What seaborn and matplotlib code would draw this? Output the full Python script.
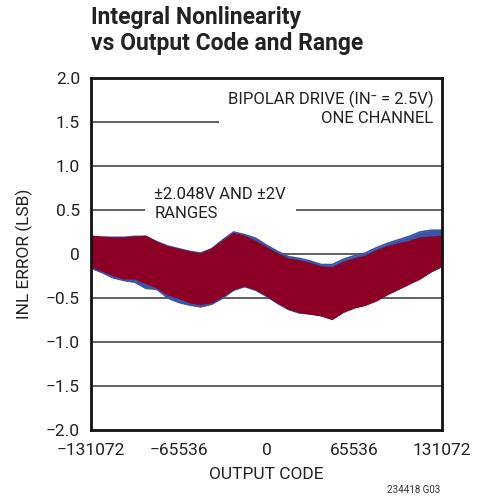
import numpy as np
import pandas as pd
import matplotlib
matplotlib.use("Agg")
import matplotlib.pyplot as plt
import seaborn as sns

# INL envelopes, every 8192 codes
codes = [-131072 + 8192 * k for k in range(33)]
red_top = [0.20, 0.19, 0.18, 0.18, 0.19, 0.20, 0.13, 0.08, 0.05, 0.02, 0.00,
           0.05, 0.14, 0.23, 0.20, 0.14, 0.07, 0.00, -0.06, -0.08, -0.11, -0.15,
           -0.16, -0.10, -0.06, -0.03, 0.03, 0.08, 0.11, 0.14, 0.18, 0.19, 0.20]
red_bot = [-0.14, -0.19, -0.24, -0.28, -0.28, -0.33, -0.38, -0.46, -0.50, -0.55, -0.57,
           -0.55, -0.48, -0.40, -0.36, -0.40, -0.47, -0.55, -0.62, -0.66, -0.68, -0.70,
           -0.74, -0.66, -0.61, -0.58, -0.53, -0.46, -0.40, -0.34, -0.28, -0.20, -0.14]
blue_top = [0.20, 0.19, 0.19, 0.19, 0.20, 0.20, 0.14, 0.09, 0.06, 0.03, 0.01,
            0.06, 0.16, 0.25, 0.22, 0.18, 0.10, 0.03, -0.03, -0.05, -0.08, -0.12,
            -0.12, -0.06, -0.02, 0.01, 0.07, 0.12, 0.16, 0.20, 0.25, 0.27, 0.27]
blue_bot = [-0.16, -0.21, -0.27, -0.30, -0.32, -0.39, -0.40, -0.50, -0.55, -0.58, -0.60,
            -0.57, -0.50, -0.41, -0.37, -0.41, -0.48, -0.56, -0.63, -0.67, -0.68, -0.70,
            -0.74, -0.66, -0.61, -0.58, -0.53, -0.46, -0.40, -0.34, -0.28, -0.20, -0.14]

xticks = [-131072, -65536, 0, 65536, 131072]
yticks = [-2.0, -1.5, -1.0, -0.5, 0, 0.5, 1.0, 1.5, 2.0]
ytick_labels = ["\u22122.0", "\u22121.5", "\u22121.0", "\u22120.5", "0", "0.5", "1.0", "1.5", "2.0"]
xtick_labels = ["\u2212131072", "\u221265536", "0", "65536", "131072"]

BLUE = "#3B55A5"
RED = "#8C0026"

sns.set_theme(style="white")
plt.rcParams["font.family"] = ["Roboto", "DejaVu Sans"]

df = pd.DataFrame({"code": codes, "rt": red_top, "rb": red_bot, "bt": blue_top, "bb": blue_bot})

fig = plt.figure(figsize=(4.87, 5.01), dpi=100)
ax = fig.add_axes([0.1869, 0.1417, 0.7207, 0.7026])

ax.fill_between(df["code"], df["bb"], df["bt"], color=BLUE, lw=0, zorder=2)
ax.fill_between(df["code"], df["rb"], df["rt"], color=RED, lw=0, zorder=3)
sns.lineplot(data=df, x="code", y="bt", ax=ax, color=BLUE, lw=1.2, zorder=2)
sns.lineplot(data=df, x="code", y="bb", ax=ax, color=BLUE, lw=1.2, zorder=2)
sns.lineplot(data=df, x="code", y="rt", ax=ax, color=RED, lw=1.2, zorder=3)
sns.lineplot(data=df, x="code", y="rb", ax=ax, color=RED, lw=1.2, zorder=3)

for yv in [-1.5, -1.0, -0.5, 0, 0.5, 1.0, 1.5]:
    ax.axhline(yv, color="#333333", lw=1.1, zorder=1)

ax.set_xlim(-131072, 131072)
ax.set_ylim(-2.0, 2.0)
ax.set_xticks(xticks)
ax.set_xticklabels(xtick_labels)
ax.set_yticks(yticks)
ax.set_yticklabels(ytick_labels)
ax.tick_params(axis="both", length=0, labelsize=12.5, colors="#222222")
ax.tick_params(axis="x", pad=9)
ax.tick_params(axis="y", pad=8)
for s in ax.spines.values():
    s.set_color("#111111")
    s.set_linewidth(2)
    s.set_zorder(10)
ax.set_xlabel("OUTPUT CODE", fontsize=12.5, color="#222222", labelpad=7)
ax.set_ylabel("INL ERROR (LSB)", fontsize=12.5, color="#222222", labelpad=9)

ax.text(0.975, 0.965, "BIPOLAR DRIVE (IN\u207b = 2.5V)\nONE CHANNEL", transform=ax.transAxes,
        ha="right", va="top", fontsize=12, color="#222222", linespacing=1.3, zorder=5,
        bbox=dict(facecolor="white", edgecolor="none", pad=6))
ax.text(0.18, 0.69, "\u00b12.048V AND \u00b12V\nRANGES", transform=ax.transAxes,
        ha="left", va="top", fontsize=12, color="#222222", linespacing=1.35, zorder=5,
        bbox=dict(facecolor="white", edgecolor="none", pad=7))

fig.text(0.1869, 0.988, "Integral Nonlinearity\nvs Output Code and Range", ha="left", va="top",
         fontsize=16.5, fontweight="bold", color="#222222", linespacing=1.15)
fig.text(0.905, 0.012, "234418 G03", ha="right", va="bottom", fontsize=7, color="#333333")

fig.savefig("out.png", dpi=100)
